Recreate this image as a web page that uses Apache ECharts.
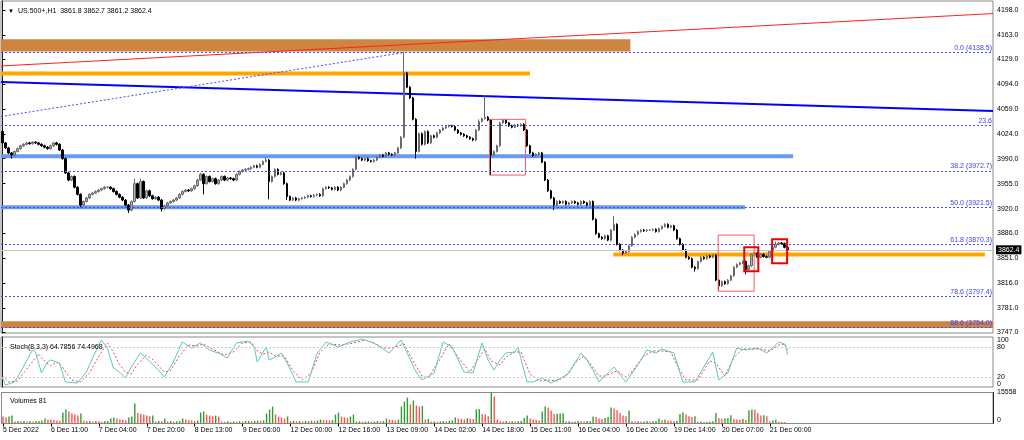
<!DOCTYPE html>
<html><head><meta charset="utf-8">
<script src="https://cdn.jsdelivr.net/npm/echarts@6/dist/echarts.min.js"></script>
<style>html,body{margin:0;padding:0;background:#fff}#c{width:1024px;height:440px}</style>
</head><body><div id="c"></div>
<script>
// ---------------- DATA ----------------
const firstOpen = 4028;
const closes = [
4012,4005,3998,3995,4000,4004,4008,4010,4012,4011,
4013,4012,4010,4008,4006,4004,4008,4012,4010,4002,
3990,3970,3960,3965,3950,3940,3925,3930,3935,3940,
3942,3944,3946,3948,3950,3950,3948,3944,3940,3936,
3932,3925,3918,3930,3955,3935,3958,3935,3945,3938,
3934,3936,3932,3920,3924,3928,3930,3932,3935,3940,
3944,3946,3945,3948,3952,3960,3968,3955,3965,3958,
3962,3955,3960,3965,3960,3963,3962,3960,3968,3972,
3974,3975,3976,3978,3980,3978,3982,3986,3988,3958,
3965,3975,3968,3970,3955,3937,3932,3935,3932,3934,
3935,3936,3938,3937,3939,3940,3938,3948,3950,3949,
3947,3950,3946,3950,3955,3960,3965,3975,3992,3990,
3988,3990,3987,3986,3988,3992,3995,3993,3998,3996,
3995,3998,4005,4020,4110,4090,4075,4045,4000,4025,
4010,4028,4012,4022,4020,4026,4030,4033,4035,4036,
4035,4030,4026,4024,4022,4020,4018,4016,4030,4042,
4046,4048,4044,3995,4000,4008,4040,4044,4040,4036,
4034,4037,4036,4038,4030,4008,3998,3994,3996,3998,
3985,3960,3945,3935,3925,3930,3928,3930,3926,3928,
3930,3928,3926,3930,3928,3925,3930,3905,3885,3880,
3878,3882,3876,3890,3898,3870,3862,3858,3860,3868,
3880,3884,3888,3890,3889,3890,3890,3891,3888,3892,
3895,3898,3894,3896,3890,3878,3870,3862,3852,3850,
3838,3836,3846,3852,3850,3854,3852,3855,3820,3812,
3818,3815,3820,3826,3838,3842,3844,3846,3835,3840,
3856,3858,3852,3856,3853,3852,3860,3866,3870,3872,
3871,3866,3862.4
];
const wickHighs = [[0,4030],[44,3962],[46,3962],[66,3970],[88,3992],[118,3994],[134,4139],[159,4045],[161,4079],[204,3910],[258,3874]];
const wickLows = [[3,3990],[26,3922],[42,3914],[53,3916],[67,3940],[89,3933],[95,3932],[138,3990],[163,3967],[184,3918],[207,3855],[231,3832],[239,3806],[248,3828]];
const volumes = [
3500,3000,3500,4000,1000,1200,1100,1300,1000,1200,
900,1100,1300,1500,2500,2000,2000,1800,1500,1400,
5500,7000,6000,5000,4500,4000,5000,1500,1200,1400,
1000,1300,1100,900,1200,1300,2500,3000,2500,2000,
1900,1500,3000,3500,10000,5300,4800,4500,4000,3700,
4000,1000,1200,1100,2500,1000,1200,900,1100,1300,
2500,2000,1600,1500,1300,1500,5500,6000,4500,4000,
3700,4000,3500,1000,900,1100,800,1000,900,1100,
1000,1200,1300,1200,1400,1500,1400,1600,5000,7000,
8500,4500,3500,3000,2500,3500,1200,1300,1100,1200,
1000,1300,1200,1400,1300,1500,2000,1800,1700,1600,
1800,4500,5500,3500,3000,2700,3500,4500,1000,1100,
900,1000,1100,900,1000,1200,1100,1200,2500,2000,
1700,1500,2000,8500,11000,13000,9500,11500,9000,8500,
8800,2000,2300,1000,1100,900,1000,1200,1100,1300,
1500,3000,2500,2300,2000,2600,2400,2300,7000,7300,
4800,4500,3600,15558,13500,2000,1100,1000,1200,1000,
1100,900,1200,1300,2800,4000,2500,2000,1900,1500,
6000,8500,8000,6500,4800,4900,5000,5200,1000,1100,
900,1000,1200,1100,1000,1200,1300,3500,3200,2500,
2200,2700,3200,8000,7500,6600,5300,4000,3600,6500,
1200,1000,1100,900,1000,1200,1000,1100,1200,2500,
1600,2000,1500,1400,1300,1400,4800,5600,4500,3600,
3300,3600,900,1000,800,900,1000,1100,5300,2600,
2300,2600,2800,4100,2300,2000,1900,2300,1800,6600,
7000,6900,5300,4000,4100,3600,1100,1600,2000,1000,
900,800,81
];
const stochK = [[0,18],[1,4],[4,10],[6,30],[10,74],[11,70],[13,28],[15,50],[16,54],[19,48],[21,10],[25,8],[28,30],[31,70],[33,94],[35,78],[37,38],[39,30],[41,18],[43,40],[46,68],[48,58],[52,34],[54,20],[57,50],[60,90],[63,78],[66,88],[69,74],[72,68],[75,58],[78,88],[82,92],[84,80],[85,50],[88,80],[89,54],[91,60],[93,68],[95,48],[98,10],[102,10],[105,68],[108,90],[112,80],[116,90],[120,96],[123,90],[125,84],[129,68],[133,94],[135,68],[138,30],[140,14],[144,28],[147,90],[150,80],[154,30],[157,28],[160,88],[162,54],[164,34],[166,54],[168,68],[171,70],[172,80],[175,10],[177,10],[180,18],[183,8],[187,20],[189,28],[193,68],[195,54],[197,34],[199,10],[204,40],[208,10],[212,44],[215,74],[218,68],[220,76],[224,68],[227,10],[231,10],[237,70],[239,14],[242,28],[245,78],[248,74],[252,78],[255,68],[259,90],[261,86],[262,64.79]];
const stochD = [[0,22],[2,10],[5,12],[8,35],[12,66],[14,52],[16,42],[18,50],[20,40],[23,14],[26,10],[29,28],[32,60],[35,88],[37,70],[39,45],[41,30],[43,26],[45,45],[48,64],[50,56],[54,30],[56,32],[59,62],[62,84],[65,82],[67,86],[70,76],[74,64],[77,70],[80,88],[83,90],[85,72],[87,66],[89,70],[91,62],[94,62],[97,32],[100,14],[103,28],[106,70],[109,86],[113,84],[117,88],[121,94],[124,88],[127,78],[130,78],[134,86],[137,52],[140,22],[142,18],[146,56],[149,86],[152,60],[156,30],[158,50],[161,76],[163,52],[166,44],[168,60],[171,70],[173,70],[176,26],[179,12],[182,14],[185,12],[188,22],[191,48],[194,62],[196,48],[199,22],[201,22],[205,32],[208,20],[210,30],[214,62],[217,72],[220,72],[223,70],[225,44],[228,14],[232,14],[236,52],[238,48],[241,22],[244,58],[247,76],[250,76],[253,76],[256,72],[259,84],[261,86],[262,74.50]];
const priceTicks = [4198.0,4163.0,4129.0,4094.0,4059.0,4024.0,3990.0,3955.0,3920.0,3886.0,3851.0,3816.0,3781.0,3747.0];
const stochTicks = [0,20,80,100];
const volumeTopTick = [15558];
const volumeBottomTick = [0];
const timeLabels = ['5 Dec 2022','6 Dec 11:00','7 Dec 04:00','7 Dec 20:00','8 Dec 13:00','9 Dec 06:00','12 Dec 00:00','12 Dec 16:00','13 Dec 09:00','14 Dec 02:00','14 Dec 18:00','15 Dec 11:00','16 Dec 04:00','16 Dec 20:00','19 Dec 14:00','20 Dec 07:00','21 Dec 00:00'];
const fibLevels = [['0.0 (4138.5)',4138.5],['23.6',4036.1],['38.2 (3972.7)',3972.7],['50.0 (3921.5)',3921.5],['61.8 (3870.3)',3870.3],['78.6 (3797.4)',3797.4],['88.6 (3754.0)',3754.0]];
const lastPrice = 3862.4;
const headerText = 'US.500+,H1  3861.8 3862.7 3861.2 3862.4';
const stochText = 'Stoch(8,3,3) 64.7856 74.4968';
const volumeText = 'Volumes 81';
// drawing objects in (bar index, price)
const brownBands = [[-0.5,209.5,4157,4140],[-0.5,330.5,3762.5,3753]];
const redBoxesThin = [[162.5,174.5,4045,3967],[238.8,250.8,3883,3804.4]];
const redBoxesBold = [[247.5,252.2,3866,3832.4],[256.8,261.8,3877.3,3843.6]];
const redTrend = [[-0.5,4119.7],[330.5,4193]];
const fibTrend = [[-0.5,4049],[133.8,4138.5]];
const blueTrend = [[-0.5,4097.2],[330.5,4056.5]];
const orangeTop = [[-0.5,4109.1],[176,4109.1]];
const orangeBottom = [[203.8,3856],[327.8,3856]];
const lightBlue1 = [[-0.5,3993.5],[263.8,3993.5]];
const lightBlue2 = [[-0.5,3922],[247.8,3922]];
const SLOTS = 331;

// ---------------- BUILD ----------------
const cats = Array.from({length: SLOTS}, (_, i) => String(i));
const hiMap = new Map(wickHighs), loMap = new Map(wickLows);
const WICK = 1.5;
const candles = closes.map((c, i) => {
  const o = i === 0 ? firstOpen : closes[i - 1];
  const h = hiMap.has(i) ? hiMap.get(i) : Math.max(o, c) + WICK;
  const l = loMap.has(i) ? loMap.get(i) : Math.min(o, c) - WICK;
  return [o, c, l, h];
});
const volData = volumes.map((v, i) => ({
  value: v,
  itemStyle: {color: (i > 0 && v > volumes[i - 1]) ? '#2f9e2f' : '#ff5252'}
}));
const FONT = 'Liberation Sans, Arial, sans-serif';
const lbl = {fontFamily: FONT, fontSize: 7, color: '#000'};

function rectRenderer(style) {
  return function (params, api) {
    const p0 = api.coord([api.value(0), api.value(2)]);
    const p1 = api.coord([api.value(1), api.value(3)]);
    return {type: 'rect', shape: {x: p0[0], y: p0[1], width: p1[0] - p0[0], height: p1[1] - p0[1]}, style: style};
  };
}
function lineSeries(data, color, width, type, z) {
  return {type: 'line', xAxisIndex: 1, yAxisIndex: 0, data: data, symbol: 'none', silent: true, z: z || 3,
    lineStyle: {color: color, width: width, type: type || 'solid'}, animation: false};
}
function sideAxis(grid, min, max, ticks, vAlign, showLine, fmt, lh) {
  return {gridIndex: grid, type: 'value', min: min, max: max, position: 'right',
    axisLine: {show: !!showLine, lineStyle: {color: '#202020'}},
    axisTick: {show: false},
    axisLabel: Object.assign({}, lbl, {margin: 4, customValues: ticks, verticalAlign: vAlign, lineHeight: lh || 7,
      showMinLabel: true, showMaxLabel: true, hideOverlap: false,
      formatter: fmt || ((v) => String(v))}),
    splitLine: {show: false}};
}

const chart = echarts.init(document.getElementById('c'), null, {renderer: 'canvas'});
chart.setOption({
  animation: false,
  backgroundColor: '#ffffff',
  title: [
    {text: '▼', left: 3, top: 3, textStyle: {fontFamily: FONT, fontSize: 6, color: '#000', fontWeight: 'normal'}},
    {text: headerText, left: 13, top: 3, textStyle: {fontFamily: FONT, fontSize: 7, color: '#000', fontWeight: 'normal'}},
    {text: stochText, left: 5, top: 339, textStyle: {fontFamily: FONT, fontSize: 7, color: '#000', fontWeight: 'normal'}},
    {text: volumeText, left: 5, top: 393, textStyle: {fontFamily: FONT, fontSize: 7, color: '#000', fontWeight: 'normal'}}
  ],
  grid: [
    {left: 1, top: 1, width: 992, height: 332, show: true, borderColor: '#8a8a8a', borderWidth: 1},
    {left: 1, top: 337, width: 992, height: 50, show: true, borderColor: '#8a8a8a', borderWidth: 1},
    {left: 1, top: 392.5, width: 992, height: 31, show: true, borderColor: '#8a8a8a', borderWidth: 1}
  ],
  xAxis: [
    {gridIndex: 0, type: 'category', data: cats, boundaryGap: true, show: false},
    {gridIndex: 0, type: 'value', min: -0.5, max: 330.5, show: false},
    {gridIndex: 1, type: 'value', min: -0.5, max: 330.5, show: false},
    {gridIndex: 2, type: 'category', data: cats, boundaryGap: true,
      axisLine: {show: false},
      axisTick: {show: true, length: 3, alignWithLabel: true, lineStyle: {color: '#000'},
        interval: (i) => i % 16 === 0 && i / 16 < timeLabels.length},
      axisLabel: Object.assign({}, lbl, {align: 'left', margin: 3,
        interval: (i) => i % 16 === 0 && i / 16 < timeLabels.length,
        formatter: (v) => timeLabels[Number(v) / 16] || ''}),
      splitLine: {show: false}}
  ],
  yAxis: [
    {gridIndex: 0, type: 'value', min: 3746, max: 4210.6, position: 'right',
      axisLine: {show: true, lineStyle: {color: '#202020'}},
      axisTick: {show: true, length: 3, customValues: priceTicks, lineStyle: {color: '#000'}},
      axisLabel: Object.assign({}, lbl, {margin: 4, customValues: priceTicks, formatter: (v) => v.toFixed(1)}),
      splitLine: {show: false}},
    sideAxis(1, 0, 100, stochTicks, 'middle', true,
      (v) => v === 0 ? '0\n' : (v === 100 ? '\n100' : String(v)), 6),
    sideAxis(2, 0, 15558, volumeTopTick, 'middle', true),
    sideAxis(2, 0, 15558, volumeBottomTick, 'bottom', false)
  ],
  series: [
    {type: 'custom', xAxisIndex: 1, yAxisIndex: 0, data: brownBands, encode: {x: [0, 1], y: [2, 3]}, z: 1, silent: true,
      renderItem: rectRenderer({fill: '#cd853f', stroke: null})},
    lineSeries(orangeTop, '#ffa500', 4, 'solid', 2),
    lineSeries(orangeBottom, '#ffa500', 4, 'solid', 2),
    lineSeries(lightBlue1, '#6a9af0', 4, 'solid', 2),
    lineSeries(lightBlue2, '#6a9af0', 4, 'solid', 2),
    lineSeries(blueTrend, '#0000ff', 2, 'solid', 3),
    lineSeries(redTrend, '#ff2020', 1, 'solid', 3),
    lineSeries(fibTrend, '#4a4aff', 1, [2, 2], 3),
    {type: 'candlestick', xAxisIndex: 0, yAxisIndex: 0, data: candles, barWidth: 2, z: 4,
      itemStyle: {color: '#b0b0b0', borderColor: '#6a6a6a', color0: '#000000', borderColor0: '#000000', borderWidth: 1},
      markLine: {silent: true, symbol: ['none', 'none'], animation: false,
        data: fibLevels.map(([t, v]) => ({yAxis: v,
          lineStyle: {color: '#4a4aff', width: 1, type: [2, 2]},
          label: {show: true, position: 'insideEndTop', distance: [1, 1], formatter: t, fontFamily: FONT, fontSize: 7, color: '#3a3aff'}}))
          .concat([{yAxis: lastPrice, lineStyle: {color: '#c4c4c4', width: 1, type: 'solid'},
            label: {show: true, position: 'end', distance: 3, formatter: lastPrice.toFixed(1), backgroundColor: '#000', color: '#fff', padding: [1, 2], fontFamily: FONT, fontSize: 7}}])}},
    {type: 'custom', xAxisIndex: 1, yAxisIndex: 0, data: redBoxesThin, encode: {x: [0, 1], y: [2, 3]}, z: 6, silent: true,
      renderItem: rectRenderer({fill: null, stroke: '#ff5a5a', lineWidth: 1})},
    {type: 'custom', xAxisIndex: 1, yAxisIndex: 0, data: redBoxesBold, encode: {x: [0, 1], y: [2, 3]}, z: 6, silent: true,
      renderItem: rectRenderer({fill: null, stroke: '#ee0000', lineWidth: 2})},
    {type: 'line', xAxisIndex: 2, yAxisIndex: 1, data: stochK, symbol: 'none', z: 4,
      lineStyle: {color: '#55cbc3', width: 1},
      markLine: {silent: true, symbol: ['none', 'none'], label: {show: false},
        lineStyle: {color: '#c8c8c8', width: 1, type: [2, 2]}, data: [{yAxis: 20}, {yAxis: 80}]}},
    {type: 'line', xAxisIndex: 2, yAxisIndex: 1, data: stochD, symbol: 'none', z: 3,
      lineStyle: {color: '#ff4040', width: 1, type: [2, 2]}},
    {type: 'bar', xAxisIndex: 3, yAxisIndex: 2, data: volData, barWidth: 1.4, z: 3}
  ]
});
</script>
</body></html>
